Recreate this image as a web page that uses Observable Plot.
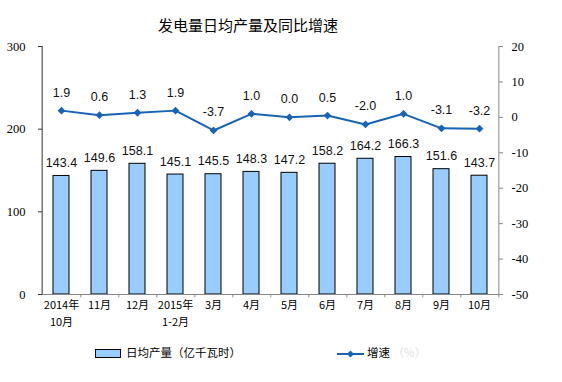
<!DOCTYPE html>
<html><head><meta charset="utf-8">
<script src="https://cdn.jsdelivr.net/npm/d3@7"></script>
<script src="https://cdn.jsdelivr.net/npm/@observablehq/plot@0.6"></script>
<style>
body{margin:0;background:#fff;}
#wrap{position:relative;width:562px;height:382px;background:#fff;overflow:hidden;}
#title{position:absolute;left:0;width:496px;top:14px;text-align:center;font:15px "Noto Sans CJK SC",sans-serif;color:#000;}
#chart{position:absolute;left:0;top:0;}
.leg{position:absolute;font:11.5px "Noto Sans CJK SC",sans-serif;color:#000;white-space:nowrap;}
</style></head>
<body><div id="wrap"><div id="title">发电量日均产量及同比增速</div><div id="chart"></div>
<div class="leg" style="left:95px;top:344px;"><span style="display:inline-block;width:24px;height:7px;background:#99CCFF;border:1px solid #000;vertical-align:middle;margin-right:5px;"></span>日均产量（亿千瓦时）</div>
<div class="leg" style="left:337px;top:344px;"><svg width="27" height="10" style="vertical-align:middle;margin-right:3px;"><line x1="0" y1="5" x2="27" y2="5" stroke="#1763B4" stroke-width="2"/><path d="M13.5,1.5L17,5L13.5,8.5L10,5Z" fill="#1763B4"/></svg>增速 <span style="color:#e4e4e4">（%）</span></div>
</div>
<script>
const categories = ["2014年\n10月","11月","12月","2015年\n1-2月","3月","4月","5月","6月","7月","8月","9月","10月"];
const output = [143.4,149.6,158.1,145.1,145.5,148.3,147.2,158.2,164.2,166.3,151.6,143.7];
const growth = [1.9,0.6,1.3,1.9,-3.7,1.0,0.0,0.5,-2.0,1.0,-3.1,-3.2];
const leftTicks = [0,100,200,300];
const rightTicks = [-50,-40,-30,-20,-10,0,10,20];

const data = categories.map((c,i)=>({c, v: output[i], g: growth[i]}));
const gy = g => (g + 50) * 300 / 70;
const half = 464/12/2;
const lineColor = "#1763B4";
const catFont = {frameAnchor:"bottom", fontSize:11, fontFamily:"Noto Sans CJK SC", fill:"#000"};

const chart = Plot.plot({
  width: 562, height: 340,
  marginLeft: 38, marginRight: 60, marginTop: 46, marginBottom: 46,
  x: {domain: categories, paddingInner: 0.58, paddingOuter: 0.29, axis: null},
  y: {domain: [0,300]},
  style: {background: "transparent"},
  marks: [
    Plot.barY(data, {x:"c", y:"v", fill:"#99CCFF", stroke:"#000", strokeWidth:1}),
    Plot.ruleY([0], {stroke:"#888"}),
    Plot.ruleX([categories[0]], {dx:-half, stroke:"#333"}),
    Plot.ruleX([categories[categories.length-1]], {dx:half, stroke:"#888"}),
    Plot.ruleX(categories, {x: d=>d, y1:0, y2:-4, dx: half, stroke:"#888"}),
    Plot.axisY(leftTicks, {anchor:"left", tickSize:-4, tickPadding:17, stroke:"#333", fontSize:12.5, fontFamily:"Liberation Serif", label:null}),
    Plot.axisY(rightTicks.map(gy), {anchor:"right", tickSize:-4, tickPadding:13, stroke:"#888", tickFormat: v => String(Math.round(v*70/300 - 50)), fontSize:12.5, fontFamily:"Liberation Serif", label:null}),
    Plot.text(categories, {x: d=>d, text: d=>d.split("\n")[0], dy:14, ...catFont}),
    Plot.text(categories.filter(d=>d.includes("\n")), {x: d=>d, text: d=>d.split("\n")[1], dy:31, ...catFont}),
    Plot.text(data, {x:"c", y:"v", text: d=>d.v.toFixed(1), dy:-13, fontSize:12.5, fontFamily:"Liberation Sans", fill:"#111"}),
    Plot.line(data, {x:"c", y: d=>gy(d.g), stroke: lineColor, strokeWidth:2}),
    Plot.dot(data, {x:"c", y: d=>gy(d.g), symbol:"diamond2", r:3.5, fill: lineColor, stroke:null}),
    Plot.text(data, {x:"c", y: d=>gy(d.g), text: d=>d.g.toFixed(1), dy:-18, fontSize:12.5, fontFamily:"Liberation Sans", fill:"#111"})
  ]
});
document.getElementById("chart").appendChild(chart);
</script>
</body></html>
